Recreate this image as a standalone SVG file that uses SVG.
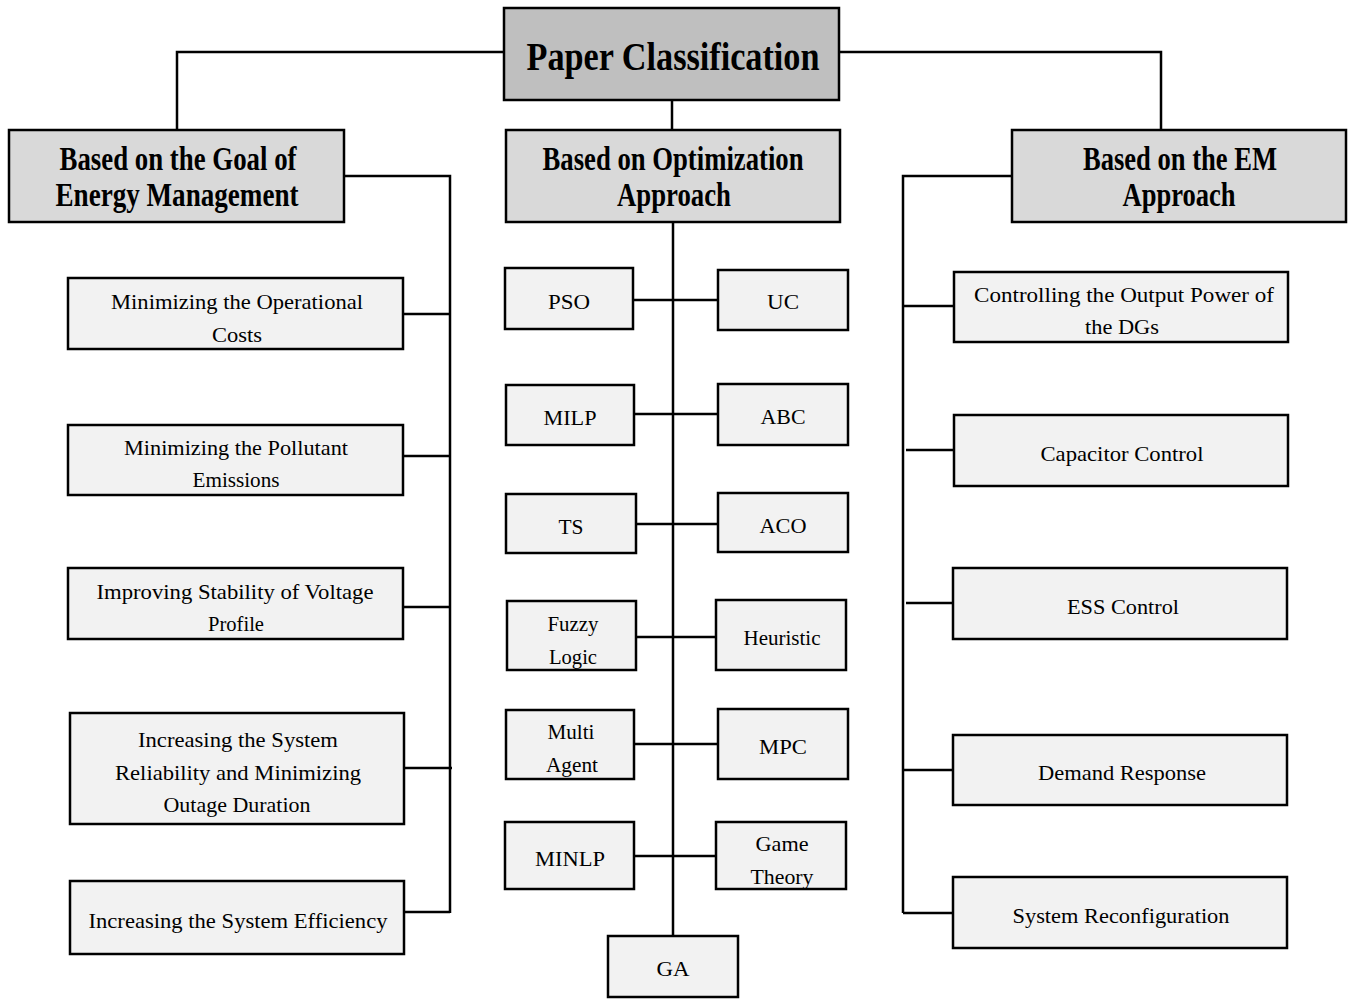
<svg xmlns="http://www.w3.org/2000/svg" width="1353" height="999" viewBox="0 0 1353 999">
<style>
.box{stroke:#000;stroke-width:2.5}
.top{fill:#bfbfbf}
.hdr{fill:#d9d9d9}
.leaf{fill:#f2f2f2}
.ln{fill:none;stroke:#000;stroke-width:2.5}
.t1{font-family:"Liberation Serif","Times New Roman",serif;font-weight:bold;font-size:40px;text-anchor:middle;fill:#000}
.t2{font-family:"Liberation Serif","Times New Roman",serif;font-weight:bold;font-size:33px;text-anchor:middle;fill:#000}
.t3{font-family:"Liberation Serif","Times New Roman",serif;font-size:22px;text-anchor:middle;fill:#000}
</style>
<rect width="1353" height="999" fill="#fff"/>
<g id="connectors">
<polyline class="ln" points="504,52 177,52 177,130"/>
<polyline class="ln" points="839,52 1161,52 1161,130"/>
<line class="ln" x1="672" y1="100" x2="672" y2="130"/>
<polyline class="ln" points="344,176 450,176 450,913"/>
<line class="ln" x1="403" y1="314" x2="450" y2="314"/>
<line class="ln" x1="403" y1="456" x2="450" y2="456"/>
<line class="ln" x1="403" y1="607" x2="450" y2="607"/>
<line class="ln" x1="404" y1="768" x2="452" y2="768"/>
<line class="ln" x1="404" y1="912" x2="450" y2="912"/>
<line class="ln" x1="673" y1="222" x2="673" y2="936"/>
<line class="ln" x1="633" y1="300" x2="718" y2="300"/>
<line class="ln" x1="634" y1="414" x2="718" y2="414"/>
<line class="ln" x1="636" y1="524" x2="718" y2="524"/>
<line class="ln" x1="636" y1="637" x2="716" y2="637"/>
<line class="ln" x1="634" y1="744" x2="718" y2="744"/>
<line class="ln" x1="634" y1="856" x2="716" y2="856"/>
<polyline class="ln" points="1012,176 903,176 903,913"/>
<line class="ln" x1="903" y1="306" x2="954" y2="306"/>
<line class="ln" x1="906" y1="450" x2="954" y2="450"/>
<line class="ln" x1="906" y1="603" x2="953" y2="603"/>
<line class="ln" x1="903" y1="770" x2="953" y2="770"/>
<line class="ln" x1="903" y1="913" x2="953" y2="913"/>
</g>
<g id="root"><rect class="box top" x="504" y="8" width="335" height="92"/><text class="t1" x="673" y="70" textLength="293" lengthAdjust="spacingAndGlyphs">Paper Classification</text></g>
<g id="hdr-goal"><rect class="box hdr" x="9" y="130" width="335" height="92"/><text class="t2" x="178" y="170" textLength="237" lengthAdjust="spacingAndGlyphs">Based on the Goal of</text><text class="t2" x="177" y="206" textLength="243" lengthAdjust="spacingAndGlyphs">Energy Management</text></g>
<g id="hdr-opt"><rect class="box hdr" x="506" y="130" width="334" height="92"/><text class="t2" x="673" y="170" textLength="261" lengthAdjust="spacingAndGlyphs">Based on Optimization</text><text class="t2" x="674" y="206" textLength="114" lengthAdjust="spacingAndGlyphs">Approach</text></g>
<g id="hdr-em"><rect class="box hdr" x="1012" y="130" width="334" height="92"/><text class="t2" x="1180" y="170" textLength="194" lengthAdjust="spacingAndGlyphs">Based on the EM</text><text class="t2" x="1179" y="206" textLength="113" lengthAdjust="spacingAndGlyphs">Approach</text></g>

<g id="goal-1"><rect class="box leaf" x="68" y="278" width="335" height="71"/><text class="t3" x="237" y="309" textLength="252" lengthAdjust="spacingAndGlyphs">Minimizing the Operational</text><text class="t3" x="237" y="342" textLength="50" lengthAdjust="spacingAndGlyphs">Costs</text></g>
<g id="goal-2"><rect class="box leaf" x="68" y="425" width="335" height="70"/><text class="t3" x="236" y="455" textLength="224" lengthAdjust="spacingAndGlyphs">Minimizing the Pollutant</text><text class="t3" x="236" y="487" textLength="87" lengthAdjust="spacingAndGlyphs">Emissions</text></g>
<g id="goal-3"><rect class="box leaf" x="68" y="568" width="335" height="71"/><text class="t3" x="235" y="599" textLength="277" lengthAdjust="spacingAndGlyphs">Improving Stability of Voltage</text><text class="t3" x="236" y="631" textLength="56" lengthAdjust="spacingAndGlyphs">Profile</text></g>
<g id="goal-4"><rect class="box leaf" x="70" y="713" width="334" height="111"/><text class="t3" x="238" y="747" textLength="200" lengthAdjust="spacingAndGlyphs">Increasing the System</text><text class="t3" x="238" y="780" textLength="246" lengthAdjust="spacingAndGlyphs">Reliability and Minimizing</text><text class="t3" x="237" y="812" textLength="147" lengthAdjust="spacingAndGlyphs">Outage Duration</text></g>
<g id="goal-5"><rect class="box leaf" x="70" y="881" width="334" height="73"/><text class="t3" x="238" y="928" textLength="299" lengthAdjust="spacingAndGlyphs">Increasing the System Efficiency</text></g>

<g id="opt-pso"><rect class="box leaf" x="505" y="268" width="128" height="61"/><text class="t3" x="569" y="309" textLength="42" lengthAdjust="spacingAndGlyphs">PSO</text></g>
<g id="opt-uc"><rect class="box leaf" x="718" y="270" width="130" height="60"/><text class="t3" x="783" y="309" textLength="32" lengthAdjust="spacingAndGlyphs">UC</text></g>
<g id="opt-milp"><rect class="box leaf" x="506" y="385" width="128" height="60"/><text class="t3" x="570" y="425" textLength="53" lengthAdjust="spacingAndGlyphs">MILP</text></g>
<g id="opt-abc"><rect class="box leaf" x="718" y="384" width="130" height="61"/><text class="t3" x="783" y="424" textLength="45" lengthAdjust="spacingAndGlyphs">ABC</text></g>
<g id="opt-ts"><rect class="box leaf" x="506" y="494" width="130" height="59"/><text class="t3" x="571" y="534" textLength="25" lengthAdjust="spacingAndGlyphs">TS</text></g>
<g id="opt-aco"><rect class="box leaf" x="718" y="493" width="130" height="59"/><text class="t3" x="783" y="533" textLength="47" lengthAdjust="spacingAndGlyphs">ACO</text></g>
<g id="opt-fuzzy"><rect class="box leaf" x="507" y="601" width="129" height="69"/><text class="t3" x="573" y="631" textLength="51" lengthAdjust="spacingAndGlyphs">Fuzzy</text><text class="t3" x="573" y="664" textLength="48" lengthAdjust="spacingAndGlyphs">Logic</text></g>
<g id="opt-heuristic"><rect class="box leaf" x="716" y="600" width="130" height="70"/><text class="t3" x="782" y="645" textLength="77" lengthAdjust="spacingAndGlyphs">Heuristic</text></g>
<g id="opt-multi"><rect class="box leaf" x="506" y="710" width="128" height="69"/><text class="t3" x="571" y="739" textLength="47" lengthAdjust="spacingAndGlyphs">Multi</text><text class="t3" x="572" y="772" textLength="52" lengthAdjust="spacingAndGlyphs">Agent</text></g>
<g id="opt-mpc"><rect class="box leaf" x="718" y="709" width="130" height="70"/><text class="t3" x="783" y="754" textLength="48" lengthAdjust="spacingAndGlyphs">MPC</text></g>
<g id="opt-minlp"><rect class="box leaf" x="505" y="822" width="129" height="67"/><text class="t3" x="570" y="866" textLength="70" lengthAdjust="spacingAndGlyphs">MINLP</text></g>
<g id="opt-game"><rect class="box leaf" x="716" y="822" width="130" height="67"/><text class="t3" x="782" y="851" textLength="53" lengthAdjust="spacingAndGlyphs">Game</text><text class="t3" x="782" y="884" textLength="63" lengthAdjust="spacingAndGlyphs">Theory</text></g>
<g id="opt-ga"><rect class="box leaf" x="608" y="936" width="130" height="61"/><text class="t3" x="673" y="976" textLength="33" lengthAdjust="spacingAndGlyphs">GA</text></g>

<g id="em-1"><rect class="box leaf" x="954" y="272" width="334" height="70"/><text class="t3" x="1124" y="302" textLength="300" lengthAdjust="spacingAndGlyphs">Controlling the Output Power of</text><text class="t3" x="1122" y="334" textLength="74" lengthAdjust="spacingAndGlyphs">the DGs</text></g>
<g id="em-2"><rect class="box leaf" x="954" y="415" width="334" height="71"/><text class="t3" x="1122" y="461" textLength="163" lengthAdjust="spacingAndGlyphs">Capacitor Control</text></g>
<g id="em-3"><rect class="box leaf" x="953" y="568" width="334" height="71"/><text class="t3" x="1123" y="614" textLength="112" lengthAdjust="spacingAndGlyphs">ESS Control</text></g>
<g id="em-4"><rect class="box leaf" x="953" y="735" width="334" height="70"/><text class="t3" x="1122" y="780" textLength="168" lengthAdjust="spacingAndGlyphs">Demand Response</text></g>
<g id="em-5"><rect class="box leaf" x="953" y="877" width="334" height="71"/><text class="t3" x="1121" y="923" textLength="217" lengthAdjust="spacingAndGlyphs">System Reconfiguration</text></g>
</svg>
